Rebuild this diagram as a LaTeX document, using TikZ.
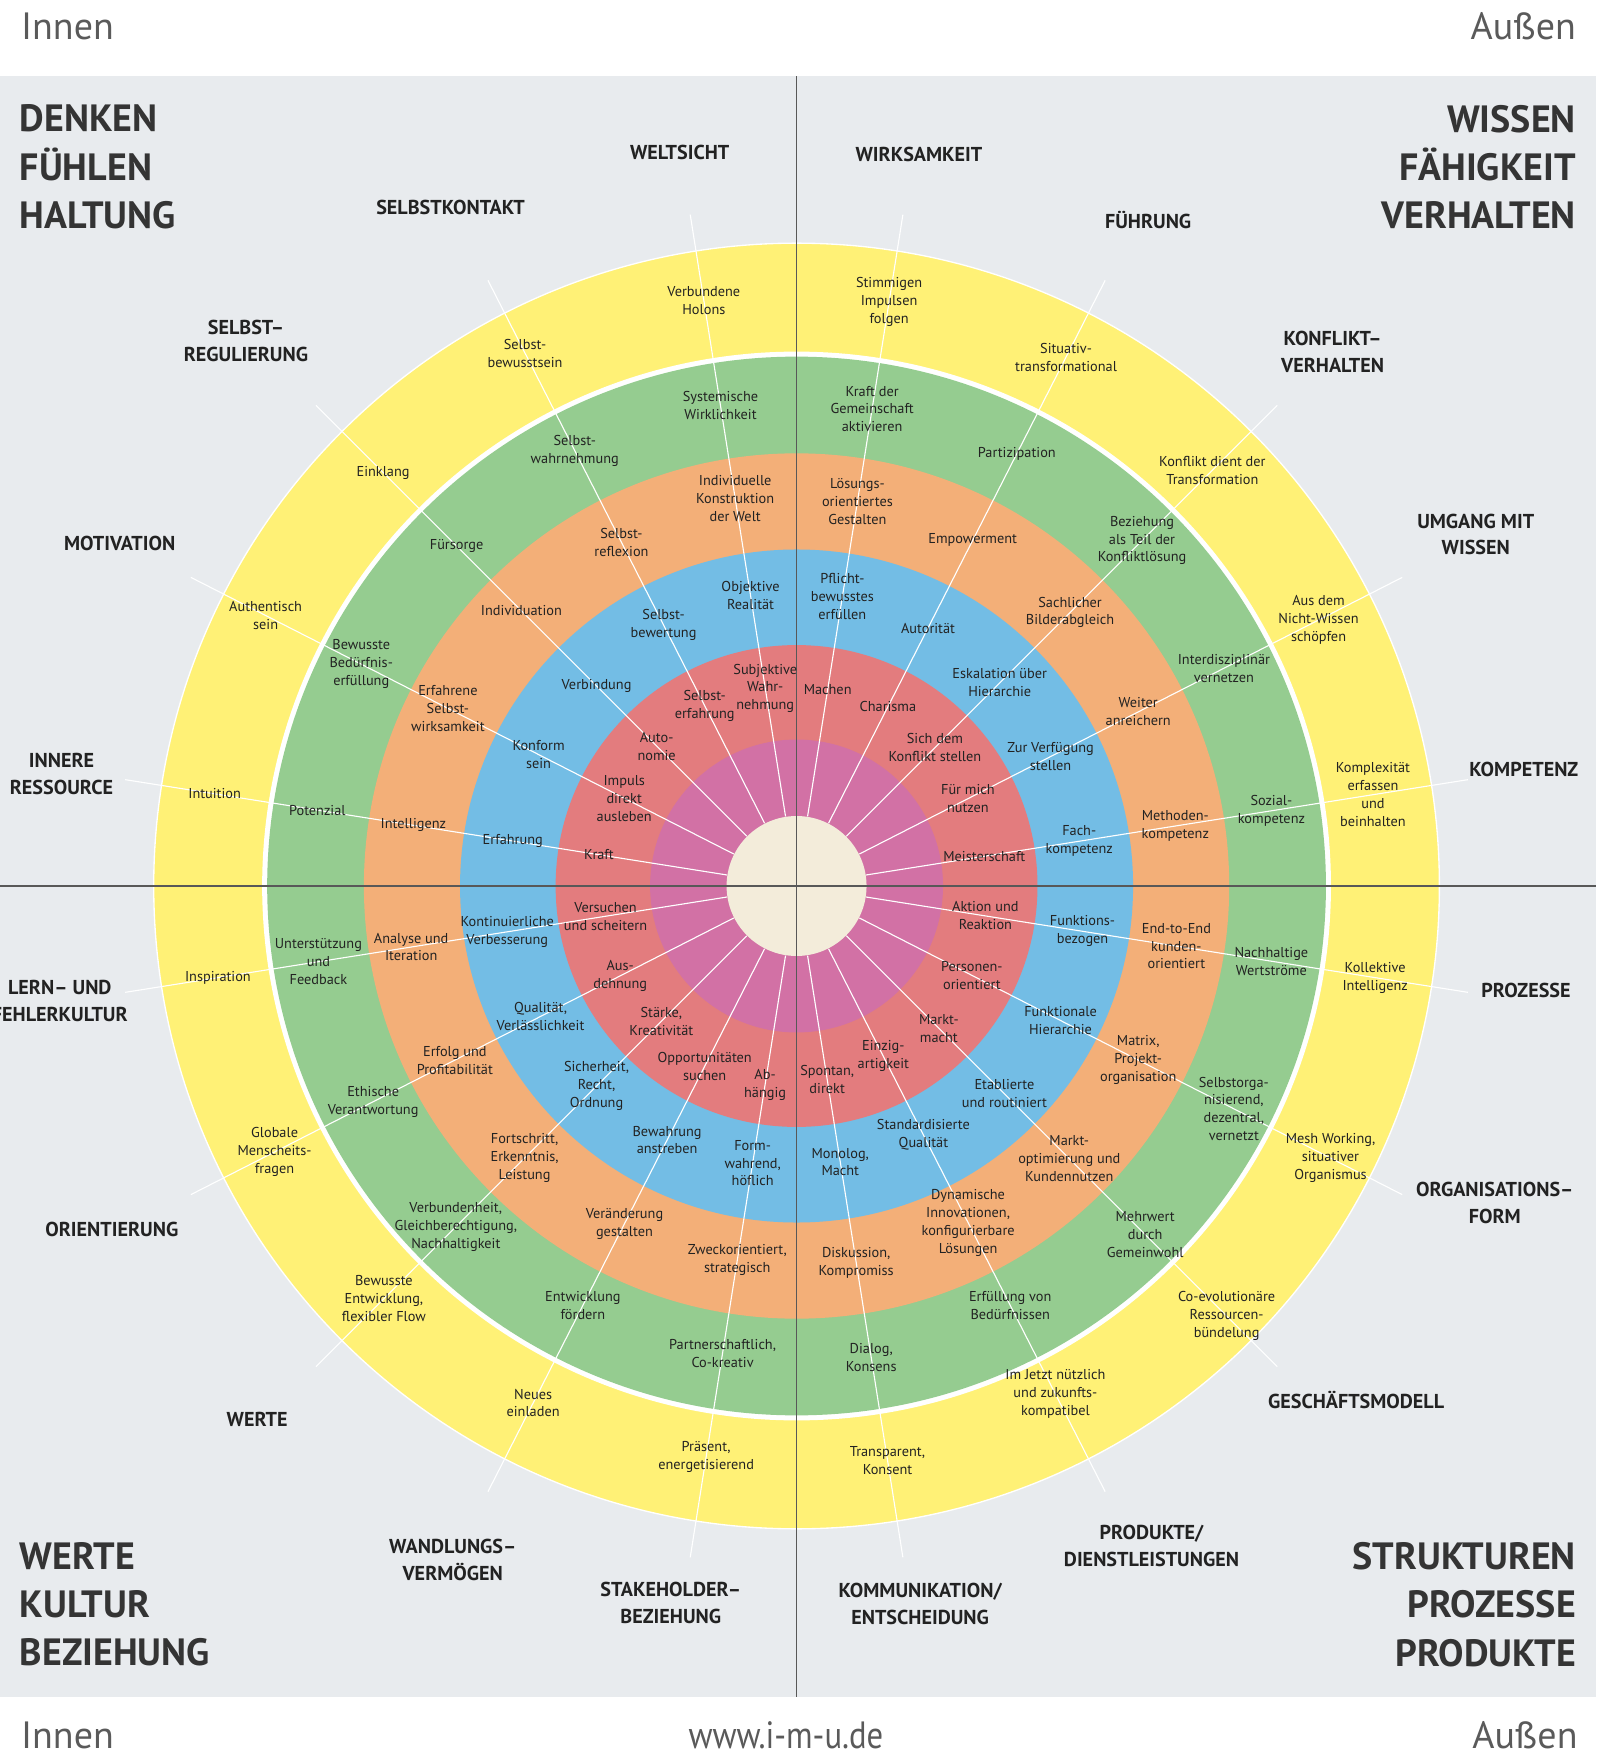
\documentclass[tikz,border=0pt]{standalone}
\usepackage{fontspec}
\setmainfont{PT Sans}

\definecolor{hintergrund}{RGB}{232,235,238}
\definecolor{ringgelb}{RGB}{255,241,118}
\definecolor{ringgruen}{RGB}{149,204,144}
\definecolor{ringorange}{RGB}{243,175,120}
\definecolor{ringblau}{RGB}{115,189,229}
\definecolor{ringrot}{RGB}{227,124,126}
\definecolor{ringlila}{RGB}{210,113,165}
\definecolor{kernfarbe}{RGB}{243,236,218}
\definecolor{achsgrau}{RGB}{88,88,88}
\definecolor{schrift}{RGB}{34,34,34}
\definecolor{titelgrau}{RGB}{52,52,52}
\definecolor{kopfgrau}{RGB}{90,90,90}

\tikzset{
  ring/.style={align=center, inner sep=0pt, text=schrift, font=\fontsize{6.4}{8}\selectfont},
  bereich/.style={align=center, inner sep=0pt, text=schrift, font=\bfseries\fontsize{9}{12}\selectfont},
  titel/.style={inner sep=0pt, text=titelgrau, font=\bfseries\fontsize{17}{21.5}\selectfont},
  kopf/.style={inner sep=0pt, text=kopfgrau, font=\fontsize{17}{20}\selectfont},
  kern/.style={circle, fill=kernfarbe, minimum size=62.6pt, inner sep=0pt},
  speiche/.style={white, line width=0.5pt},
  achse/.style={achsgrau, line width=0.7pt},
}

\begin{document}
\begin{tikzpicture}[x=0.5pt,y=0.5pt]
\useasboundingbox (-712.5,-775.5) rectangle (715.5,792.5);
\fill[hintergrund] (-712.5,-725.5) rectangle (715.5,724.5);

% Ringe von aussen nach innen
\fill[ringgelb]   (0,0) circle (575);
\draw[white, line width=0.6pt] (0,0) circle (575);
\fill[white]      (0,0) circle (478);
\fill[ringgruen]  (0,0) circle (473.5);
\fill[ringorange] (0,0) circle (387);
\fill[ringblau]   (0,0) circle (301);
\fill[ringrot]    (0,0) circle (215.5);
\fill[ringlila]   (0,0) circle (131);
\node[kern](kern) at (0,0) {};

% freie Enden der Speichen
\coordinate(weltsicht-end)         at (99:608);
\coordinate(selbstkontakt-end)     at (117:608);
\coordinate(selbstregulierung-end) at (135:608);
\coordinate(motivation-end)        at (153:608);
\coordinate(ressource-end)         at (171:608);
\coordinate(lernkultur-end)        at (189:608);
\coordinate(orientierung-end)      at (207:608);
\coordinate(werte-end)             at (225:608);
\coordinate(wandlung-end)          at (243:608);
\coordinate(stakeholder-end)       at (261:608);
\coordinate(kommunikation-end)     at (279:608);
\coordinate(produkte-end)          at (297:608);
\coordinate(geschaeft-end)         at (315:608);
\coordinate(orgform-end)           at (333:608);
\coordinate(prozesse-end)          at (351:608);
\coordinate(kompetenz-end)         at (9:608);
\coordinate(wissen-end)            at (27:608);
\coordinate(konflikt-end)          at (45:608);
\coordinate(fuehrung-end)          at (63:608);
\coordinate(wirksamkeit-end)       at (81:608);

\draw[speiche] (kern) to (weltsicht-end);
\draw[speiche] (kern) to (selbstkontakt-end);
\draw[speiche] (kern) to (selbstregulierung-end);
\draw[speiche] (kern) to (motivation-end);
\draw[speiche] (kern) to (ressource-end);
\draw[speiche] (kern) to (lernkultur-end);
\draw[speiche] (kern) to (orientierung-end);
\draw[speiche] (kern) to (werte-end);
\draw[speiche] (kern) to (wandlung-end);
\draw[speiche] (kern) to (stakeholder-end);
\draw[speiche] (kern) to (kommunikation-end);
\draw[speiche] (kern) to (produkte-end);
\draw[speiche] (kern) to (geschaeft-end);
\draw[speiche] (kern) to (orgform-end);
\draw[speiche] (kern) to (prozesse-end);
\draw[speiche] (kern) to (kompetenz-end);
\draw[speiche] (kern) to (wissen-end);
\draw[speiche] (kern) to (konflikt-end);
\draw[speiche] (kern) to (fuehrung-end);
\draw[speiche] (kern) to (wirksamkeit-end);

% Achsen
\draw[achse] (0,724.5) -- (0,-725.5);
\draw[achse] (-712.5,0) -- (715.5,0);

% Weltsicht
\node[ring](weltsicht-rot)    at (99:179) {Subjektive\\Wahr-\\nehmung};
\node[ring](weltsicht-blau)   at (99:263) {Objektive\\Realität};
\node[ring](weltsicht-orange) at (99:351) {Individuelle\\Konstruktion\\der Welt};
\node[ring](weltsicht-gruen)  at (99:435) {Systemische\\Wirklichkeit};
\node[ring](weltsicht-gelb)   at (99:530) {Verbundene\\Holons};
% Selbstkontakt
\node[ring](selbstkontakt-rot)    at (117:181) {Selbst-\\erfahrung};
\node[ring](selbstkontakt-blau)   at (117:262) {Selbst-\\bewertung};
\node[ring](selbstkontakt-orange) at (117:345) {Selbst-\\reflexion};
\node[ring](selbstkontakt-gruen)  at (117:437) {Selbst-\\wahrnehmung};
\node[ring](selbstkontakt-gelb)   at (117:535) {Selbst-\\bewusstsein};
% Selbstregulierung
\node[ring](selbstregulierung-rot)    at (135:177) {Auto-\\nomie};
\node[ring](selbstregulierung-blau)   at (135:253) {Verbindung};
\node[ring](selbstregulierung-orange) at (135:348) {Individuation};
\node[ring](selbstregulierung-gruen)  at (135:430) {Fürsorge};
\node[ring](selbstregulierung-gelb)   at (135:523) {Einklang};
% Motivation
\node[ring](motivation-rot)    at (153:173) {Impuls\\direkt\\ausleben};
\node[ring](motivation-blau)   at (153:259) {Konform\\sein};
\node[ring](motivation-orange) at (153:350) {Erfahrene\\Selbst-\\wirksamkeit};
\node[ring](motivation-gruen)  at (153:437) {Bewusste\\Bedürfnis-\\erfüllung};
\node[ring](motivation-gelb)   at (153:533) {Authentisch\\sein};
% Innere Ressource
\node[ring](ressource-rot)    at (171:179) {Kraft};
\node[ring](ressource-blau)   at (171:257) {Erfahrung};
\node[ring](ressource-orange) at (171:347) {Intelligenz};
\node[ring](ressource-gruen)  at (171:434) {Potenzial};
\node[ring](ressource-gelb)   at (171:527) {Intuition};
% Lern- und Fehlerkultur
\node[ring](lernkultur-rot)    at (189:173) {Versuchen\\und scheitern};
\node[ring](lernkultur-blau)   at (189:262) {Kontinuierliche\\Verbesserung};
\node[ring](lernkultur-orange) at (189:349) {Analyse und\\Iteration};
\node[ring](lernkultur-gruen)  at (189:433) {Unterstützung\\und\\Feedback};
\node[ring](lernkultur-gelb)   at (189:524) {Inspiration};
% Orientierung
\node[ring](orientierung-rot)    at (207:177) {Aus-\\dehnung};
\node[ring](orientierung-blau)   at (207:257) {Qualität,\\Verlässlichkeit};
\node[ring](orientierung-orange) at (207:343) {Erfolg und\\Profitabilität};
\node[ring](orientierung-gruen)  at (207:425) {Ethische\\Verantwortung};
\node[ring](orientierung-gelb)   at (207:524) {Globale\\Menscheits-\\fragen};
% Werte
\node[ring](werte-rot)    at (225:171) {Stärke,\\Kreativität};
\node[ring](werte-blau)   at (225:253) {Sicherheit,\\Recht,\\Ordnung};
\node[ring](werte-orange) at (225:344) {Fortschritt,\\Erkenntnis,\\Leistung};
\node[ring](werte-gruen)  at (225:431) {Verbundenheit,\\Gleichberechtigung,\\Nachhaltigkeit};
\node[ring](werte-gelb)   at (225:522) {Bewusste\\Entwicklung,\\flexibler Flow};
% Wandlungsvermoegen
\node[ring](wandlung-rot)    at (243:181) {Opportunitäten\\suchen};
\node[ring](wandlung-blau)   at (243:255) {Bewahrung\\anstreben};
\node[ring](wandlung-orange) at (243:339) {Veränderung\\gestalten};
\node[ring](wandlung-gruen)  at (243:421) {Entwicklung\\fördern};
\node[ring](wandlung-gelb)   at (243:519) {Neues\\einladen};
% Stakeholder-Beziehung
\node[ring](stakeholder-rot)    at (261:180) {Ab-\\hängig};
\node[ring](stakeholder-blau)   at (261:251) {Form-\\wahrend,\\höflich};
\node[ring](stakeholder-orange) at (261:339) {Zweckorientiert,\\strategisch};
\node[ring](stakeholder-gruen)  at (261:423) {Partnerschaftlich,\\Co-kreativ};
\node[ring](stakeholder-gelb)   at (261:517) {Präsent,\\energetisierend};
% Kommunikation/Entscheidung
\node[ring](kommunikation-rot)    at (279:175) {Spontan,\\direkt};
\node[ring](kommunikation-blau)   at (279:250) {Monolog,\\Macht};
\node[ring](kommunikation-orange) at (279:341) {Diskussion,\\Kompromiss};
\node[ring](kommunikation-gruen)  at (279:427) {Dialog,\\Konsens};
\node[ring](kommunikation-gelb)   at (279:520) {Transparent,\\Konsent};
% Produkte/Dienstleistungen
\node[ring](produkte-rot)    at (297:171) {Einzig-\\artigkeit};
\node[ring](produkte-blau)   at (297:250) {Standardisierte\\Qualität};
\node[ring](produkte-orange) at (297:338) {Dynamische\\Innovationen,\\konfigurierbare\\Lösungen};
\node[ring](produkte-gruen)  at (297:421) {Erfüllung von\\Bedürfnissen};
\node[ring](produkte-gelb)   at (297:510) {Im Jetzt nützlich\\und zukunfts-\\kompatibel};
% Geschaeftsmodell
\node[ring](geschaeft-rot)    at (315:180) {Markt-\\macht};
\node[ring](geschaeft-blau)   at (315:263) {Etablierte\\und routiniert};
\node[ring](geschaeft-orange) at (315:345) {Markt-\\optimierung und\\Kundennutzen};
\node[ring](geschaeft-gruen)  at (315:441) {Mehrwert\\durch\\Gemeinwohl};
\node[ring](geschaeft-gelb)   at (315:544) {Co-evolutionäre\\Ressourcen-\\bündelung};
% Organisationsform
\node[ring](orgform-rot)    at (333:176) {Personen-\\orientiert};
\node[ring](orgform-blau)   at (333:265) {Funktionale\\Hierarchie};
\node[ring](orgform-orange) at (333:343) {Matrix,\\Projekt-\\organisation};
\node[ring](orgform-gruen)  at (333:439) {Selbstorga-\\nisierend,\\dezentral,\\vernetzt};
\node[ring](orgform-gelb)   at (333:536) {Mesh Working,\\situativer\\Organismus};
% Prozesse
\node[ring](prozesse-rot)    at (351:171) {Aktion und\\Reaktion};
\node[ring](prozesse-blau)   at (351:259) {Funktions-\\bezogen};
\node[ring](prozesse-orange) at (351:344) {End-to-End\\kunden-\\orientiert};
\node[ring](prozesse-gruen)  at (351:430) {Nachhaltige\\Wertströme};
\node[ring](prozesse-gelb)   at (351:524) {Kollektive\\Intelligenz};
% Kompetenz
\node[ring](kompetenz-rot)    at (9:170) {Meisterschaft};
\node[ring](kompetenz-blau)   at (9:256) {Fach-\\kompetenz};
\node[ring](kompetenz-orange) at (9:343) {Methoden-\\kompetenz};
\node[ring](kompetenz-gruen)  at (9:430) {Sozial-\\kompetenz};
\node[ring](kompetenz-gelb)   at (9:522) {Komplexität\\erfassen\\und\\beinhalten};
% Umgang mit Wissen
\node[ring](wissen-rot)    at (27:172) {Für mich\\nutzen};
\node[ring](wissen-blau)   at (27:255) {Zur Verfügung\\stellen};
\node[ring](wissen-orange) at (27:343) {Weiter\\anreichern};
\node[ring](wissen-gruen)  at (27:429) {Interdisziplinär\\vernetzen};
\node[ring](wissen-gelb)   at (27:524) {Aus dem\\Nicht-Wissen\\schöpfen};
% Konfliktverhalten
\node[ring](konflikt-rot)    at (45:175) {Sich dem\\Konflikt stellen};
\node[ring](konflikt-blau)   at (45:257) {Eskalation über\\Hierarchie};
\node[ring](konflikt-orange) at (45:346) {Sachlicher\\Bilderabgleich};
\node[ring](konflikt-gruen)  at (45:437) {Beziehung\\als Teil der\\Konfliktlösung};
\node[ring](konflikt-gelb)   at (45:526) {Konflikt dient der\\Transformation};
% Fuehrung
\node[ring](fuehrung-rot)    at (63:180) {Charisma};
\node[ring](fuehrung-blau)   at (63:259) {Autorität};
\node[ring](fuehrung-orange) at (63:347) {Empowerment};
\node[ring](fuehrung-gruen)  at (63:434) {Partizipation};
\node[ring](fuehrung-gelb)   at (63:531) {Situativ-\\transformational};
% Wirksamkeit
\node[ring](wirksamkeit-rot)    at (81:178) {Machen};
\node[ring](wirksamkeit-blau)   at (81:262) {Pflicht-\\bewusstes\\erfüllen};
\node[ring](wirksamkeit-orange) at (81:348) {Lösungs-\\orientiertes\\Gestalten};
\node[ring](wirksamkeit-gruen)  at (81:432) {Kraft der\\Gemeinschaft\\aktivieren};
\node[ring](wirksamkeit-gelb)   at (81:529) {Stimmigen\\Impulsen\\folgen};

% Bereiche aussen
\node[bereich](weltsicht)         at (-104.5,656.5)  {WELTSICHT};
\node[bereich](selbstkontakt)     at (-309.5,606.5)  {SELBSTKONTAKT};
\node[bereich](selbstregulierung) at (-492.5,487.5)  {SELBST–\\REGULIERUNG};
\node[bereich](motivation)        at (-605.5,306.5)  {MOTIVATION};
\node[bereich](ressource)         at (-657.5,100.5)  {INNERE\\RESSOURCE};
\node[bereich](lernkultur)        at (-659,-102.5)   {LERN– UND\\FEHLERKULTUR};
\node[bereich](orientierung)      at (-612.5,-307.5) {ORIENTIERUNG};
\node[bereich](werte)             at (-482.5,-477.5) {WERTE};
\node[bereich](wandlung)          at (-307.5,-602.5) {WANDLUNGS–\\VERMÖGEN};
\node[bereich](stakeholder)       at (-112.5,-641.5) {STAKEHOLDER–\\BEZIEHUNG};
\node[bereich](kommunikation)     at (110.5,-642.5)  {KOMMUNIKATION/\\ENTSCHEIDUNG};
\node[bereich](produkte)          at (317.5,-590.5)  {PRODUKTE/\\DIENSTLEISTUNGEN};
\node[bereich](geschaeft)         at (500.5,-459.5)  {GESCHÄFTSMODELL};
\node[bereich](orgform)           at (624.5,-283.5)  {ORGANISATIONS–\\FORM};
\node[bereich](prozesse)          at (652.5,-93.5)   {PROZESSE};
\node[bereich](kompetenz)         at (650.5,104.5)   {KOMPETENZ};
\node[bereich](wissen)            at (607.5,314.5)   {UMGANG MIT\\WISSEN};
\node[bereich](konflikt)          at (479.5,477.5)   {KONFLIKT–\\VERHALTEN};
\node[bereich](fuehrung)          at (314.5,595.5)   {FÜHRUNG};
\node[bereich](wirksamkeit)       at (109.5,654.5)   {WIRKSAMKEIT};

% Quadranten
\node[titel, align=left,  anchor=north west](denken)     at (-695.2,699) {DENKEN\\FÜHLEN\\HALTUNG};
\node[titel, align=right, anchor=north east](wissen-q)   at (697.5,699)  {WISSEN\\FÄHIGKEIT\\VERHALTEN};
\node[titel, align=left,  anchor=north west](kultur)     at (-695.2,-587) {WERTE\\KULTUR\\BEZIEHUNG};
\node[titel, align=right, anchor=north east](strukturen) at (697.5,-587)  {STRUKTUREN\\PROZESSE\\PRODUKTE};

% Kopf und Fuss
\node[kopf, anchor=base west](innen-oben)  at (-694,757.5)  {Innen};
\node[kopf, anchor=base east](aussen-oben) at (697.5,757.5) {Außen};
\node[kopf, anchor=base west](innen-unten) at (-694,-771.5) {Innen};
\node[kopf, anchor=base, xscale=0.86, transform shape](web) at (-9.5,-771.5) {www.i-m-u.de};
\node[kopf, anchor=base east](aussen-unten) at (699,-771.5) {Außen};
\end{tikzpicture}
\end{document}
